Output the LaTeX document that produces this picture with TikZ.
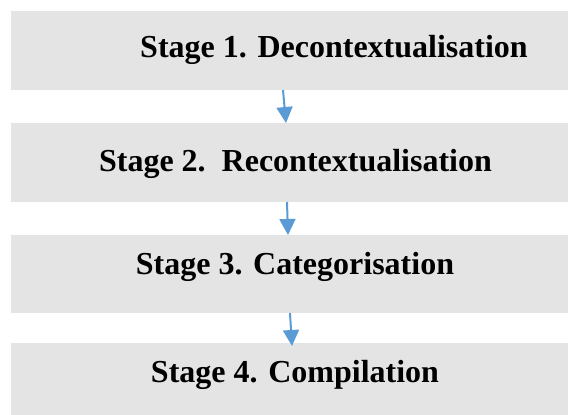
\documentclass[tikz,border=0pt]{standalone}
\usepackage{fontspec}
\setmainfont{Liberation Serif}
\usetikzlibrary{arrows.meta}
\definecolor{boxgrey}{HTML}{E4E4E4}
\definecolor{arrblue}{HTML}{5B9BD5}
\begin{document}
\begin{tikzpicture}[x=1pt,y=-1pt,
  stagebox/.style={fill=boxgrey,draw=none,inner sep=0pt,outer sep=0pt,minimum width=557pt,anchor=north west,rectangle},
  stagetext/.style={font=\fontsize{32}{38}\selectfont\bfseries,anchor=base,inner sep=0pt},
  flowarrow/.style={draw=arrblue,line width=2pt,-{Triangle[width=16pt,length=16pt]}}]
\useasboundingbox (0,0) rectangle (568,415);
\node[stagebox,minimum height=79pt] (b1) at (11,11) {};
\node[stagebox,minimum height=79pt] (b2) at (11,123) {};
\node[stagebox,minimum height=78pt] (b3) at (11,235) {};
\node[stagebox,minimum height=76pt] (b4) at (11,343) {};
\node[stagetext] (t1) at (334,57) {Stage 1. Decontextualisation};
\node[stagetext] (t2) at (295.5,171) {Stage 2.\ \ Recontextualisation};
\node[stagetext] (t3) at (295,274) {Stage 3. Categorisation};
\node[stagetext] (t4) at (295,382) {Stage 4. Compilation};
\draw[flowarrow] ([xshift=272pt]b1.south west) -- ([xshift=275pt]b2.north west);
\draw[flowarrow] ([xshift=276pt]b2.south west) -- ([xshift=277pt]b3.north west);
\draw[flowarrow] ([xshift=279pt]b3.south west) -- ([xshift=281pt,yshift=-3pt]b4.north west);
\end{tikzpicture}
\end{document}
